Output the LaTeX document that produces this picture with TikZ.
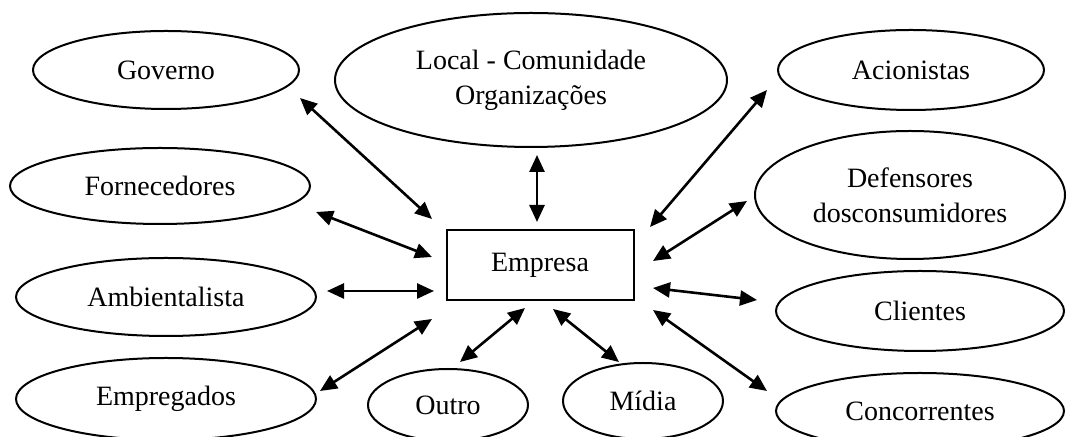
\documentclass[tikz,border=0pt]{standalone}
\usepackage{fontspec}
\setmainfont{Liberation Serif}
\usetikzlibrary{arrows.meta,shapes.geometric}

\begin{document}
\begin{tikzpicture}[
  x=0.5pt,y=-0.5pt,
  party/.style={draw,ellipse,line width=1pt,inner sep=0pt,align=center,
    font=\fontsize{14}{17.5}\selectfont},
  firm/.style={draw,rectangle,line width=1pt,inner sep=0pt,minimum width=93.5pt,minimum height=35pt,
    font=\fontsize{14}{17.5}\selectfont},
  arrow/.style={{Triangle[length=8.5pt,width=7.5pt]}-{Triangle[length=8.5pt,width=7.5pt]},line width=1.3pt}
]
\useasboundingbox (0,0) rectangle (1067,437);
% stakeholders
\node[party,minimum width=133pt,minimum height=39pt] (gov) at (166,70) {Governo};
\node[party,minimum width=196pt,minimum height=67pt] (local) at (531,80) {Local - Comunidade\\Organizações};
\node[party,minimum width=133pt,minimum height=40pt] (acio) at (911,70) {Acionistas};
\node[party,minimum width=150pt,minimum height=38pt] (forn) at (160,186) {Fornecedores};
\node[party,minimum width=155pt,minimum height=64pt] (def) at (910,195) {Defensores\\dosconsumidores};
\node[firm] (emp) at (540,265) {Empresa};
\node[party,minimum width=150pt,minimum height=39pt] (amb) at (166,297) {Ambientalista};
\node[party,minimum width=144pt,minimum height=40pt] (cli) at (920,311) {Clientes};
\node[party,minimum width=150pt,minimum height=41pt] (empr) at (166,399) {Empregados};
\node[party,minimum width=80pt,minimum height=36pt] (outro) at (448,405) {Outro};
\node[party,minimum width=80pt,minimum height=38pt] (midia) at (643,401) {Mídia};
\node[party,minimum width=144pt,minimum height=38pt] (conc) at (920,411) {Concorrentes};
% arrow ends
\coordinate (gov-a) at (300,98);   \coordinate (gov-b) at (432,219);
\coordinate (local-a) at (537,155); \coordinate (local-b) at (537,222);
\coordinate (acio-a) at (767,90);  \coordinate (acio-b) at (650,227);
\coordinate (forn-a) at (316,212); \coordinate (forn-b) at (432,257);
\coordinate (def-a) at (747,201);  \coordinate (def-b) at (653,261);
\coordinate (amb-a) at (327,291);  \coordinate (amb-b) at (434,291);
\coordinate (cli-a) at (757,300);  \coordinate (cli-b) at (653,288);
\coordinate (empr-a) at (320,391); \coordinate (empr-b) at (432,319);
\coordinate (outro-a) at (460,362); \coordinate (outro-b) at (525,308);
\coordinate (midia-a) at (619,362); \coordinate (midia-b) at (553,309);
\coordinate (conc-a) at (767,391); \coordinate (conc-b) at (653,310);
\foreach \p in {gov,local,acio,forn,def,amb,cli,empr,outro,midia,conc}
  \draw[arrow] (\p-a) -- (\p-b);
\end{tikzpicture}
\end{document}
